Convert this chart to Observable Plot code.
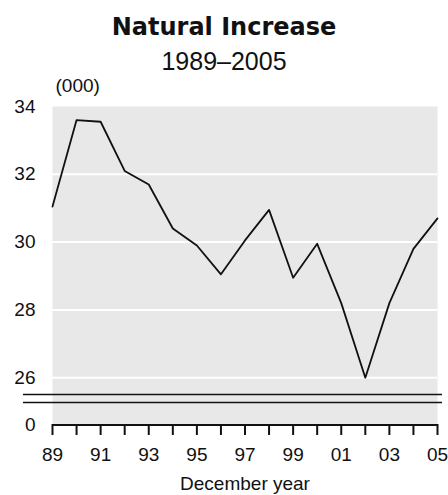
<!DOCTYPE html>
<html>
<head>
<meta charset="utf-8">
<script src="https://cdn.jsdelivr.net/npm/d3@7"></script>
<script src="https://cdn.jsdelivr.net/npm/@observablehq/plot@0.6"></script>
<style>
  html, body { margin: 0; padding: 0; background: #fff; }
  #wrap { position: relative; width: 448px; height: 495px; overflow: hidden; }
  #title { position: absolute; left: 0; width: 448px; top: 12px; line-height: 30px; text-align: center;
           font-family: "DejaVu Sans", sans-serif; font-weight: bold; font-size: 24px; color: #111; }
  #subtitle { position: absolute; left: 0; width: 448px; top: 47px; line-height: 28px; text-align: center;
           font-family: "Liberation Sans", sans-serif; font-size: 25px; color: #111; }
  #chart { position: absolute; left: 0; top: 72px; }
</style>
</head>
<body>
<div id="wrap">
  <div id="title">Natural Increase</div>
  <div id="subtitle">1989–2005</div>
  <div id="chart"></div>
</div>
<script>
const years = [1989, 1990, 1991, 1992, 1993, 1994, 1995, 1996, 1997, 1998, 1999, 2000, 2001, 2002, 2003, 2004, 2005];
const values = [31.05, 33.6, 33.55, 32.1, 31.7, 30.4, 29.9, 29.05, 30.05, 30.95, 28.95, 29.95, 28.2, 26.0, 28.2, 29.8, 30.7];
const yTickValues = [26, 28, 30, 32, 34];
const axisFloor = 24.62; // broken-axis floor, labelled "0"
const yUnitLabel = "(000)";
const xTitle = "December year";

const data = years.map((year, i) => ({year, value: values[i]}));

const chart = Plot.plot({
  width: 448,
  height: 423,
  marginTop: 34,
  marginBottom: 71,
  marginLeft: 52,
  marginRight: 11,
  style: {fontFamily: "Liberation Sans, Arial, sans-serif", fontSize: "19px", color: "#111", background: "white", overflow: "visible"},
  x: {domain: [years[0], years[years.length - 1]]},
  y: {domain: [axisFloor, yTickValues[yTickValues.length - 1]]},
  marks: [
    Plot.frame({fill: "#e8e8e8", stroke: null}),
    Plot.gridY(yTickValues.slice(0, -1), {stroke: "white", strokeOpacity: 1, strokeWidth: 2}),
    Plot.ruleY([axisFloor], {dy: -30, insetLeft: -29, insetRight: -5, stroke: "#111", strokeWidth: 1.5}),
    Plot.ruleY([axisFloor], {dy: -22, insetLeft: -29, insetRight: -5, stroke: "#111", strokeWidth: 1.5}),
    Plot.axisY({ticks: [axisFloor, ...yTickValues], tickSize: 0, tickPadding: 17, tickFormat: d => d === axisFloor ? "0" : String(d), fontSize: 19, label: null}),
    Plot.axisX({ticks: years, tickSize: 11, tickPadding: 12, stroke: "#111", strokeWidth: 2, tickFormat: d => d % 2 ? String(d).slice(2) : "", fontSize: 19, label: null}),
    Plot.ruleY([axisFloor], {dy: 0.5, stroke: "#111", strokeWidth: 2}),
    Plot.line(data, {x: "year", y: "value", stroke: "#111", strokeWidth: 1.8}),
    Plot.text([yUnitLabel], {frameAnchor: "top-left", dx: 3, dy: -21, textAnchor: "start", lineAnchor: "middle", fontSize: 19}),
    Plot.text([xTitle], {frameAnchor: "bottom", dy: 59, lineAnchor: "middle", fontSize: 19})
  ]
});
document.getElementById("chart").appendChild(chart);
</script>
</body>
</html>
